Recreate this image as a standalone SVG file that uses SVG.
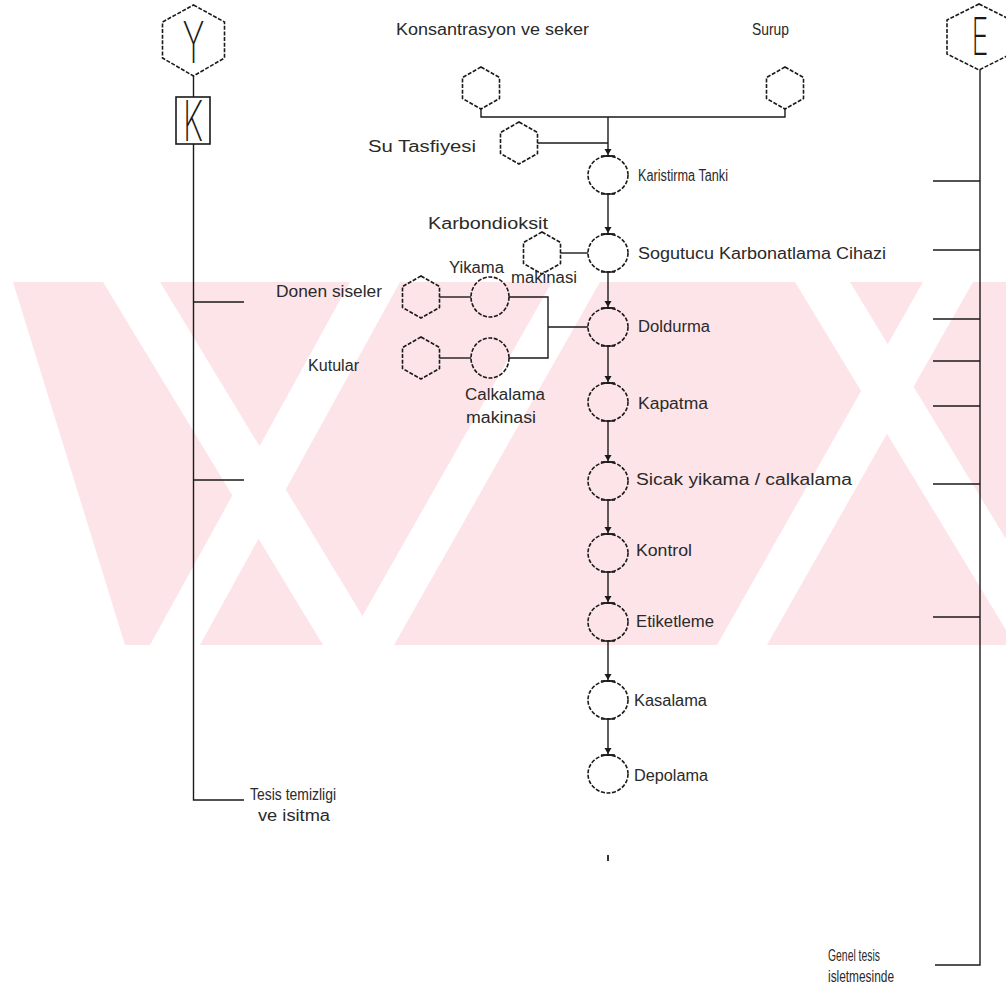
<svg xmlns="http://www.w3.org/2000/svg" xmlns:xlink="http://www.w3.org/1999/xlink" width="1006" height="995" viewBox="0 0 1006 995">
<style>
.ln{stroke:#1a1a1a;stroke-width:1.4;fill:none}
.sh{stroke:#1a1a1a;stroke-width:1.6;fill:none;stroke-dasharray:4 1.6}
.bar{stroke:#1a1a1a;stroke-width:1.6;fill:none}
.t{font-family:"Liberation Sans",Arial,sans-serif;font-size:16px;fill:#2a2a2a}
.big{font-family:"Inter","Liberation Sans",sans-serif;font-weight:200;fill:#1a1a1a}
.wm{fill:#fde4e8}
.wc{fill:#ffffff}
</style>
<defs>
<polygon id="hx" points="0,-21 18.5,-10.5 18.5,10.5 0,21 -18.5,10.5 -18.5,-10.5"/>
<marker id="ah" markerUnits="userSpaceOnUse" markerWidth="12" markerHeight="10" refX="5" refY="8" orient="0">
<path d="M1.5,1 L8.5,1 L5,7 Z" fill="#1a1a1a"/>
<path d="M0,8 H10" stroke="#1a1a1a" stroke-width="1.4"/>
</marker>
</defs>

<g id="watermark">
<rect class="wm" x="0" y="282" width="1006" height="363"/>
<polygon class="wc" points="0,282 13,282 125,645 0,645"/>
<polygon class="wc" points="103,282 160,282 380,645 323,645"/>
<polygon class="wc" points="350,282 400,282 200,645 150,645"/>
<polygon class="wc" points="552,282 600,282 394,645 346,645"/>
<polygon class="wc" points="795,282 850,282 1006,539 1006,630"/>
<polygon class="wc" points="923,282 973,282 767,645 717,645"/>
</g>

<g id="connectors">
<path class="ln" d="M481,109 V117 H785 V109"/>
<path class="ln" d="M608,117 V156" marker-end="url(#ah)"/>
<path class="ln" d="M537.5,143 H608"/>
<path class="ln" d="M608,194 V234" marker-end="url(#ah)"/>
<path class="ln" d="M560.5,253 H588"/>
<path class="ln" d="M608,272 V308" marker-end="url(#ah)"/>
<path class="ln" d="M439.5,297 H471"/>
<path class="ln" d="M439.5,358 H471"/>
<path class="ln" d="M509,297 H548 V358 H509"/>
<path class="ln" d="M548,327 H588"/>
<path class="ln" d="M608,346 V383" marker-end="url(#ah)"/>
<path class="ln" d="M608,421 V462" marker-end="url(#ah)"/>
<path class="ln" d="M608,500 V534" marker-end="url(#ah)"/>
<path class="ln" d="M608,572 V603" marker-end="url(#ah)"/>
<path class="ln" d="M608,641 V681" marker-end="url(#ah)"/>
<path class="ln" d="M608,719 V755" marker-end="url(#ah)"/>
<path class="ln" d="M193.5,76 V97"/>
<path class="ln" d="M193.5,144 V800 H244"/>
<path class="ln" d="M193.5,302 H244 M193.5,480 H244"/>
<path class="ln" d="M980,70 V965 H935"/>
<path class="ln" d="M933,181 H980 M933,250 H980 M933,319 H980 M933,361 H980 M933,406 H980 M933,484 H980 M933,617 H980"/>
</g>

<g id="node-Y">
<polygon class="sh" points="193.5,5 224.5,22 224.5,58 193.5,76 162.5,58 162.5,22"/>
<text class="big" x="193.5" y="63" font-size="57" text-anchor="middle" textLength="22" lengthAdjust="spacingAndGlyphs">Y</text>
</g>
<g id="node-K">
<rect class="bar" x="176" y="97" width="34" height="47"/>
<text class="big" x="193" y="141" font-size="56" text-anchor="middle" textLength="20" lengthAdjust="spacingAndGlyphs">K</text>
</g>
<g id="node-E">
<polygon class="sh" points="979,4 1011,20 1011,54 979,70 947,54 947,20"/>
<text class="big" x="980" y="55" font-size="52" text-anchor="middle" textLength="17" lengthAdjust="spacingAndGlyphs">E</text>
</g>

<g id="node-konsantrasyon">
<use xlink:href="#hx" href="#hx" class="sh" x="481" y="88"/>
<text class="t" x="396" y="35" textLength="193" lengthAdjust="spacingAndGlyphs">Konsantrasyon ve seker</text>
</g>
<g id="node-surup">
<use xlink:href="#hx" href="#hx" class="sh" x="785" y="88"/>
<text class="t" x="752" y="35" textLength="37" lengthAdjust="spacingAndGlyphs">Surup</text>
</g>
<g id="node-su">
<use xlink:href="#hx" href="#hx" class="sh" x="519" y="143"/>
<text class="t" x="368" y="152" textLength="108" lengthAdjust="spacingAndGlyphs">Su Tasfiyesi</text>
</g>
<g id="node-karbondioksit">
<use xlink:href="#hx" href="#hx" class="sh" x="542" y="253"/>
<text class="t" x="428" y="229" textLength="120" lengthAdjust="spacingAndGlyphs">Karbondioksit</text>
</g>
<g id="node-donen">
<use xlink:href="#hx" href="#hx" class="sh" x="421" y="297"/>
<text class="t" x="276" y="297" textLength="106" lengthAdjust="spacingAndGlyphs">Donen siseler</text>
</g>
<g id="node-kutular">
<use xlink:href="#hx" href="#hx" class="sh" x="421" y="358"/>
<text class="t" x="308" y="371" textLength="51" lengthAdjust="spacingAndGlyphs">Kutular</text>
</g>
<g id="node-yikama">
<ellipse class="sh" cx="490" cy="297" rx="19" ry="20"/>
<text class="t" x="449" y="273" textLength="55" lengthAdjust="spacingAndGlyphs">Yikama</text>
<text class="t" x="511" y="283" textLength="66" lengthAdjust="spacingAndGlyphs">makinasi</text>
</g>
<g id="node-calkalama">
<ellipse class="sh" cx="490" cy="358" rx="19" ry="20"/>
<text class="t" x="465" y="400" textLength="80" lengthAdjust="spacingAndGlyphs">Calkalama</text>
<text class="t" x="466" y="423" textLength="70" lengthAdjust="spacingAndGlyphs">makinasi</text>
</g>

<g id="node-karistirma">
<ellipse class="sh" cx="608" cy="175" rx="20" ry="19"/>
<path class="bar" d="M601,156 H615 M601,194 H615"/>
<text class="t" x="638" y="181" textLength="90" lengthAdjust="spacingAndGlyphs">Karistirma Tanki</text>
</g>
<g id="node-sogutucu">
<ellipse class="sh" cx="608" cy="253" rx="20" ry="19"/>
<path class="bar" d="M601,234 H615 M601,272 H615"/>
<text class="t" x="638" y="259" textLength="248" lengthAdjust="spacingAndGlyphs">Sogutucu Karbonatlama Cihazi</text>
</g>
<g id="node-doldurma">
<ellipse class="sh" cx="608" cy="327" rx="20" ry="19"/>
<path class="bar" d="M601,308 H615 M601,346 H615"/>
<text class="t" x="638" y="332" textLength="72" lengthAdjust="spacingAndGlyphs">Doldurma</text>
</g>
<g id="node-kapatma">
<ellipse class="sh" cx="608" cy="402" rx="20" ry="19"/>
<path class="bar" d="M601,383 H615 M601,421 H615"/>
<text class="t" x="638" y="409" textLength="70" lengthAdjust="spacingAndGlyphs">Kapatma</text>
</g>
<g id="node-sicak">
<ellipse class="sh" cx="608" cy="481" rx="20" ry="19"/>
<path class="bar" d="M601,462 H615 M601,500 H615"/>
<text class="t" x="636" y="485" textLength="216" lengthAdjust="spacingAndGlyphs">Sicak yikama / calkalama</text>
</g>
<g id="node-kontrol">
<ellipse class="sh" cx="608" cy="553" rx="20" ry="19"/>
<path class="bar" d="M601,534 H615 M601,572 H615"/>
<text class="t" x="636" y="556" textLength="56" lengthAdjust="spacingAndGlyphs">Kontrol</text>
</g>
<g id="node-etiketleme">
<ellipse class="sh" cx="608" cy="622" rx="20" ry="19"/>
<path class="bar" d="M601,603 H615 M601,641 H615"/>
<text class="t" x="636" y="627" textLength="78" lengthAdjust="spacingAndGlyphs">Etiketleme</text>
</g>
<g id="node-kasalama">
<ellipse class="sh" cx="608" cy="700" rx="20" ry="19"/>
<path class="bar" d="M601,681 H615 M601,719 H615"/>
<text class="t" x="634" y="706" textLength="73" lengthAdjust="spacingAndGlyphs">Kasalama</text>
</g>
<g id="node-depolama">
<ellipse class="sh" cx="608" cy="774" rx="20" ry="19"/>
<path class="bar" d="M601,755 H615"/>
<text class="t" x="634" y="781" textLength="74" lengthAdjust="spacingAndGlyphs">Depolama</text>
</g>

<g id="node-tesis">
<text class="t" x="250" y="800" textLength="86" lengthAdjust="spacingAndGlyphs">Tesis temizligi</text>
<text class="t" x="258" y="821" textLength="72" lengthAdjust="spacingAndGlyphs">ve isitma</text>
</g>
<g id="node-genel">
<text class="t" x="828" y="961" textLength="52" lengthAdjust="spacingAndGlyphs">Genel tesis</text>
<text class="t" x="828" y="982" textLength="66" lengthAdjust="spacingAndGlyphs">isletmesinde</text>
</g>
<rect x="607" y="855" width="2" height="6" fill="#333"/>
</svg>
